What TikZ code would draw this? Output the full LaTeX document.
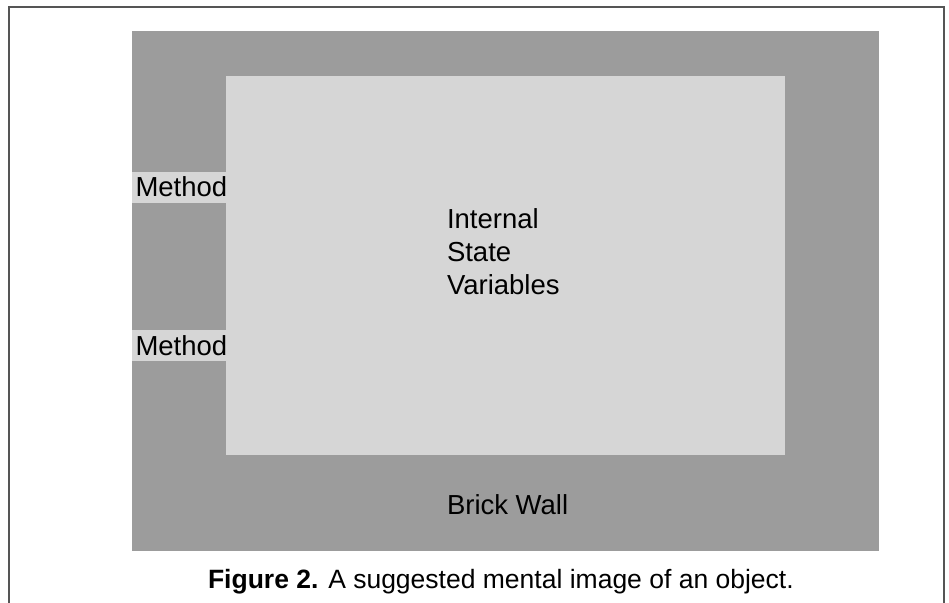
\documentclass[tikz,border=0pt]{standalone}
\usepackage{fontspec}
\setmainfont{Liberation Sans}
\definecolor{wall}{HTML}{9C9C9C}
\definecolor{inner}{HTML}{D6D6D6}
\definecolor{frame}{HTML}{555555}
\begin{document}
\begin{tikzpicture}[x=1bp,y=-1bp,
  lbl/.style={anchor=base west,inner sep=0pt,outer sep=0pt,font=\fontsize{27.5bp}{33bp}\selectfont},
  captext/.style={anchor=base west,inner sep=0pt,outer sep=0pt,font=\fontsize{26.5bp}{30bp}\selectfont}]
\useasboundingbox[fill=white] (0,0) rectangle (949,603);
% frame open at bottom
\draw[frame,line width=2.5bp] (9,603) -- (9,7) -- (944,7) -- (944,603);
% brick wall
\fill[wall] (132,31) rectangle (879,551);
% interior
\fill[inner] (226,76) rectangle (785,455);
% method windows
\fill[inner] (132,172) rectangle (226,203);
\fill[inner] (132,330) rectangle (226,361);
\node[lbl] (m1) at (135.5,197) {Method};
\node[lbl] (m2) at (135.5,355) {Method};
\node[lbl,align=left,anchor=north west] (isv) at (447,209) {Internal\\State\\Variables};
\node[lbl] (bw) at (447,514) {Brick Wall};
\node[captext] (caption) at (208,588) {\textbf{Figure 2.} A suggested mental image of an object.};
\end{tikzpicture}
\end{document}
